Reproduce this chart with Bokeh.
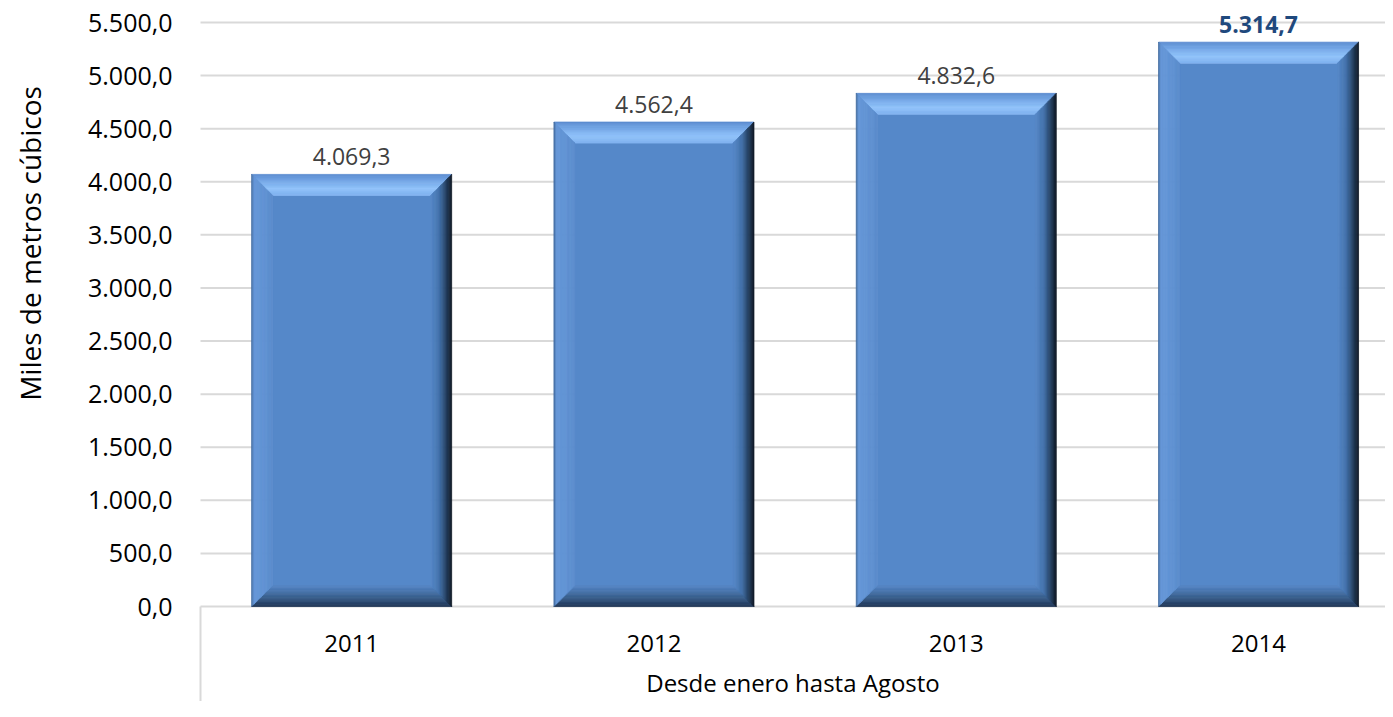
import math
from bokeh.plotting import figure
from bokeh.models import Range1d
from bokeh.core.properties import value
from bokeh.embed import file_html
from bokeh.resources import INLINE

# ---- data ----
years = ["2011", "2012", "2013", "2014"]
volumes = [4069.3, 4562.4, 4832.6, 5314.7]
y_ticks = [0, 500, 1000, 1500, 2000, 2500, 3000, 3500, 4000, 4500, 5000, 5500]
y_title = "Miles de metros cúbicos"
x_group = "Desde enero hasta Agosto"


def es_fmt(v):
    s = f"{v:,.1f}"
    return s.replace(",", "X").replace(".", ",").replace("X", ".")


FONT = "Open Sans"
W, H = 1385, 701
# plot-area geometry in screen pixels
PLOT_LEFT = 200      # x pixel of category axis start
ZERO_PX = 606        # y pixel of value 0
TOP_PX = 22          # y pixel of top tick
CAT_PX = 302.3       # pixels per category

kx = CAT_PX
ky = (ZERO_PX - TOP_PX) / y_ticks[-1]
X0 = -PLOT_LEFT / kx
X1 = (W - PLOT_LEFT) / kx
Y1 = ZERO_PX / ky
Y0 = -(H - ZERO_PX) / ky

p = figure(width=W, height=H, output_backend="svg", toolbar_location=None,
           x_range=Range1d(X0, X1), y_range=Range1d(Y0, Y1),
           x_axis_location=None, y_axis_location=None,
           min_border=0, min_border_left=0, min_border_right=0,
           min_border_top=0, min_border_bottom=0)
p.outline_line_color = None
p.background_fill_color = "white"
p.border_fill_color = "white"
p.xgrid.visible = False
p.ygrid.visible = False

n = len(years)
x_end = n + 0.5

# gridlines (incl. value axis at 0)
p.segment(x0=[0] * len(y_ticks), y0=y_ticks, x1=[x_end] * len(y_ticks), y1=y_ticks,
          line_color="#D9D9D9", line_width=2)
# category frame line below axis
p.segment(x0=[0], y0=[Y0], x1=[0], y1=[0], line_color="#D9D9D9", line_width=2)

# y tick labels
p.text(x=[0] * len(y_ticks), y=y_ticks, text=[es_fmt(t) for t in y_ticks],
       text_align="right", text_baseline="middle", x_offset=-28,
       text_font=value(FONT), text_font_size="25px", text_color="#000000")

# y axis title (centered at ~243 px from top)
p.text(x=[0], y=[0], text=[y_title], angle=math.pi / 2,
       text_align="center", text_baseline="middle", x_offset=-171, y_offset=-363,
       text_font=value(FONT), text_font_size="28px", text_color="#000000")

# ---- bevelled bars ----
xs = [i + 0.5 for i in range(n)]
bw = 200 / CAT_PX
bev_px = 21
bx = bev_px / kx
by = bev_px / ky


def hex2rgb(h):
    h = h.lstrip("#")
    return tuple(int(h[i:i + 2], 16) for i in (0, 2, 4))


def grad(stops, t):
    for (t0, c0), (t1, c1) in zip(stops, stops[1:]):
        if t0 <= t <= t1:
            f = (t - t0) / (t1 - t0) if t1 > t0 else 0
            a, b = hex2rgb(c0), hex2rgb(c1)
            return "#%02x%02x%02x" % tuple(int(round(a[k] + (b[k] - a[k]) * f)) for k in range(3))
    return stops[-1][1]


stops = {
    "top": [(0, "#5a8bce"), (0.3, "#72a5e5"), (0.7, "#90c2fa"), (1, "#7fb1ef")],
    "left": [(0, "#3a6090"), (0.12, "#6597d8"), (0.5, "#6193d4"), (1, "#5a8ccc")],
    "right": [(0, "#0d1520"), (0.25, "#213a58"), (0.6, "#416fa9"), (1, "#5487c7")],
    "bottom": [(0, "#1e3352"), (0.5, "#3b6292"), (1, "#5385c5")],
}
CENTER = "#5588c9"
N = 18

pxs, pys, cols = [], [], []
for xc, v in zip(xs, volumes):
    x0, x1 = xc - bw / 2, xc + bw / 2
    y0, y1 = 0, v
    pxs.append([x0 + bx, x1 - bx, x1 - bx, x0 + bx])
    pys.append([y0 + by, y0 + by, y1 - by, y1 - by])
    cols.append(CENTER)
    for k in range(N):
        t0, t1 = k / N, (k + 1) / N
        tm = (t0 + t1) / 2
        # top
        pxs.append([x0 + t0 * bx, x1 - t0 * bx, x1 - t1 * bx, x0 + t1 * bx])
        pys.append([y1 - t0 * by, y1 - t0 * by, y1 - t1 * by, y1 - t1 * by])
        cols.append(grad(stops["top"], tm))
        # bottom
        pxs.append([x0 + t0 * bx, x1 - t0 * bx, x1 - t1 * bx, x0 + t1 * bx])
        pys.append([y0 + t0 * by, y0 + t0 * by, y0 + t1 * by, y0 + t1 * by])
        cols.append(grad(stops["bottom"], tm))
        # left
        pxs.append([x0 + t0 * bx, x0 + t0 * bx, x0 + t1 * bx, x0 + t1 * bx])
        pys.append([y0 + t0 * by, y1 - t0 * by, y1 - t1 * by, y0 + t1 * by])
        cols.append(grad(stops["left"], tm))
        # right
        pxs.append([x1 - t0 * bx, x1 - t0 * bx, x1 - t1 * bx, x1 - t1 * bx])
        pys.append([y0 + t0 * by, y1 - t0 * by, y1 - t1 * by, y0 + t1 * by])
        cols.append(grad(stops["right"], tm))

p.patches(xs=pxs, ys=pys, fill_color=cols, line_color=cols, line_width=0.8)

# value labels
labels = [es_fmt(v) for v in volumes]
reg = list(range(n - 1))
p.text(x=[xs[i] for i in reg], y=[volumes[i] for i in reg], text=[labels[i] for i in reg],
       text_align="center", text_baseline="middle", y_offset=-18,
       text_font=value(FONT), text_font_size="23px", text_color="#404040")
p.text(x=[xs[-1]], y=[volumes[-1]], text=[labels[-1]],
       text_align="center", text_baseline="middle", y_offset=-18,
       text_font=value(FONT), text_font_size="23px", text_font_style="bold",
       text_color="#1f497d")

# category labels
p.text(x=xs, y=[0] * n, text=years, text_align="center", text_baseline="middle",
       y_offset=37, text_font=value(FONT), text_font_size="24px", text_color="#000000")
p.text(x=[(X1) / 2], y=[0], text=[x_group], text_align="center", text_baseline="middle",
       y_offset=76, text_font=value(FONT), text_font_size="24px", text_color="#000000")

open("out.html", "w").write(file_html(p, INLINE))
